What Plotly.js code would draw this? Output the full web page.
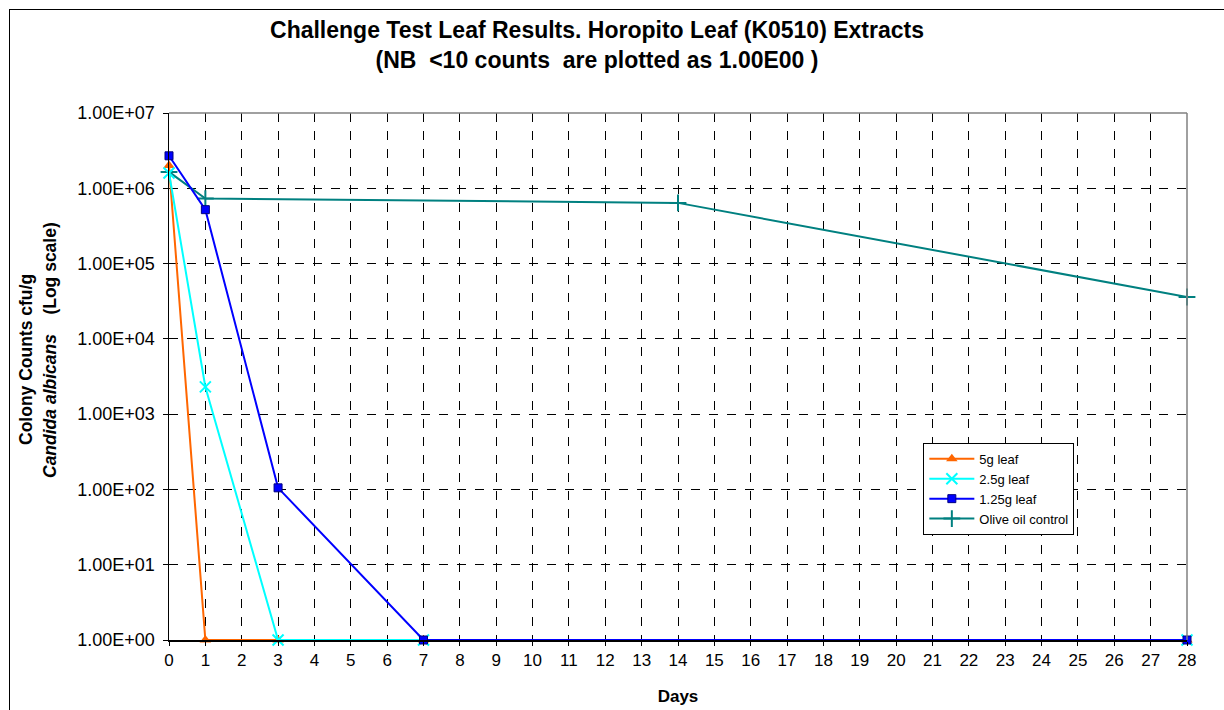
<!DOCTYPE html>
<html>
<head>
<meta charset="utf-8">
<script src="https://cdn.plot.ly/plotly-3.0.1.min.js"></script>
<style>
  html, body { margin: 0; padding: 0; background: #fff; }
  #wrap { position: relative; width: 1224px; height: 710px; overflow: hidden; }
  #chart { width: 1224px; height: 710px; }
  #frame { position: absolute; left: 9px; top: 9px; width: 1400px; height: 900px;
           border: 1.5px solid #000; pointer-events: none; }
</style>
</head>
<body>
<div id="wrap">
  <div id="chart"></div>
  <div id="frame"></div>
</div>
<script>
// ---- data ----
const leafDays = [0, 1, 3, 7, 28];
const oliveDays = [0, 1, 14, 28];
const leaf5g = [2.0e6, 1, 1, 1, 1];
const leaf25g = [1.6e6, 2.3e3, 1, 1, 1];
const leaf125g = [2.7e6, 5.2e5, 1.05e2, 1, 1];
const oliveControl = [1.65e6, 7.3e5, 6.4e5, 3.6e4];
const seriesNames = ['5g leaf', '2.5g leaf', '1.25g leaf', 'Olive oil control'];
const dayTicks = Array.from({length: 29}, (_, i) => i);
const yTickVals = [1, 10, 100, 1e3, 1e4, 1e5, 1e6, 1e7];
const yTickText = ['1.00E+00', '1.00E+01', '1.00E+02', '1.00E+03', '1.00E+04', '1.00E+05', '1.00E+06', '1.00E+07'];

const FONT = 'Liberation Sans, Arial, sans-serif';

const traces = [
  {
    x: oliveDays, y: oliveControl, name: seriesNames[3], legendrank: 4,
    mode: 'lines+markers', type: 'scatter', cliponaxis: false,
    line: {color: '#008080', width: 2},
    marker: {symbol: 'cross-thin', size: 12, line: {color: '#008080', width: 2}}
  },
  {
    x: leafDays, y: leaf5g, name: seriesNames[0], legendrank: 1,
    mode: 'lines+markers', type: 'scatter', cliponaxis: false,
    line: {color: '#FF6600', width: 2},
    marker: {symbol: 'triangle-up', size: 10, color: '#FF6600'}
  },
  {
    x: leafDays, y: leaf25g, name: seriesNames[1], legendrank: 2,
    mode: 'lines+markers', type: 'scatter', cliponaxis: false,
    line: {color: '#00FFFF', width: 2},
    marker: {symbol: 'x-thin', size: 11, line: {color: '#00FFFF', width: 2}}
  },
  {
    x: leafDays, y: leaf125g, name: seriesNames[2], legendrank: 3,
    mode: 'lines+markers', type: 'scatter', cliponaxis: false,
    line: {color: '#0000FF', width: 2},
    marker: {symbol: 'square', size: 8, color: '#0000FF', line: {color: '#000080', width: 1}}
  }
];

const layout = {
  width: 1224, height: 710,
  margin: {l: 169, r: 37, t: 113, b: 70},
  paper_bgcolor: '#fff', plot_bgcolor: '#fff',
  font: {family: FONT, size: 17, color: '#000'},
  title: {
    text: '<b>Challenge Test Leaf Results. Horopito Leaf (K0510) Extracts<br>(NB  &lt;10 counts  are plotted as 1.00E00 )</b>',
    font: {family: FONT, size: 23, color: '#000'},
    x: 597 / 1224, xanchor: 'center', xref: 'container',
    y: 1 - 38 / 710, yanchor: 'middle', yref: 'container'
  },
  showlegend: true,
  legend: {
    x: 0.741, xanchor: 'left', y: 0.374, yanchor: 'top',
    bordercolor: '#000', borderwidth: 1, bgcolor: '#fff',
    font: {family: FONT, size: 13, color: '#000'},
    traceorder: 'normal', tracegroupgap: 0, itemwidth: 45
  },
  xaxis: {
    range: [0, 28], tickvals: dayTicks, ticktext: dayTicks.map(String),
    showgrid: true, gridcolor: '#000', griddash: 'dash', gridwidth: 1,
    showline: true, linecolor: '#000', linewidth: 1.5,
    ticks: 'outside', ticklen: 4, tickcolor: '#000',
    zeroline: false, tickfont: {family: FONT, size: 17},
    title: {text: '<b>Days</b>', font: {family: FONT, size: 17}, standoff: 21}
  },
  yaxis: {
    type: 'log', range: [0, 7], tickvals: yTickVals, ticktext: yTickText,
    showgrid: true, gridcolor: '#000', griddash: 'dash', gridwidth: 1,
    showline: true, linecolor: '#000', linewidth: 1.5,
    ticks: 'outside', ticklen: 5, tickcolor: '#000', ticklabelstandoff: 4,
    zeroline: false, tickfont: {family: FONT, size: 18}
  },
  shapes: [
    {type: 'line', xref: 'paper', yref: 'paper', x0: 0, x1: 1, y0: 1, y1: 1,
     line: {color: '#808080', width: 1.5}, layer: 'above'},
    {type: 'line', xref: 'paper', yref: 'paper', x0: 1, x1: 1, y0: 0, y1: 1,
     line: {color: '#808080', width: 1.5}, layer: 'above'}
  ],
  annotations: [
    {text: '<b>Colony Counts cfu/g</b>', textangle: -90, showarrow: false,
     xref: 'paper', yref: 'paper', x: (26 - 169) / 1018, y: (640 - 360) / 527,
     xanchor: 'center', yanchor: 'middle', font: {family: FONT, size: 17.5}},
    {text: '<b><i>Candida albicans</i>    (Log scale)</b>', textangle: -90, showarrow: false,
     xref: 'paper', yref: 'paper', x: (50 - 169) / 1018, y: (640 - 350) / 527,
     xanchor: 'center', yanchor: 'middle', font: {family: FONT, size: 17.5}}
  ]
};

Plotly.newPlot('chart', traces, layout, {displayModeBar: false, staticPlot: true});
</script>
</body>
</html>
